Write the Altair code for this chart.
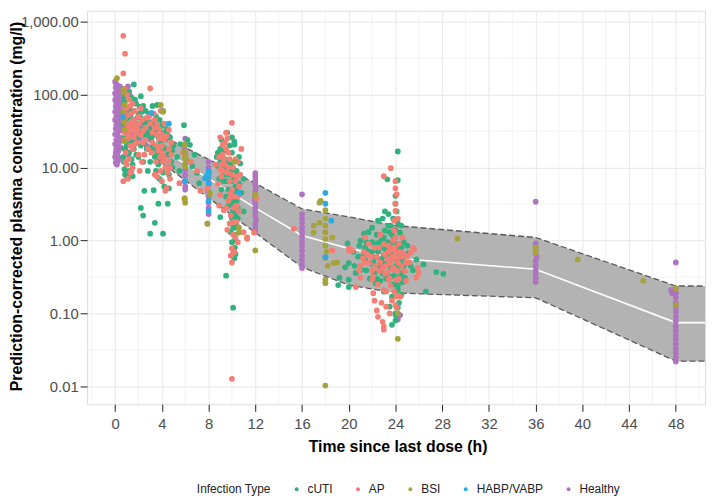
import altair as alt
import pandas as pd

FONT = "Liberation Sans"
XT = "Time since last dose (h)"
YT = "Prediction-corrected plasma concentration (mg/l)"

types = ["cUTI", "AP", "BSI", "HABP/VABP", "Healthy"]
colors = ["#2FB27E", "#F27E74", "#A6A33A", "#2BABE2", "#B073C0"]

x_ticks = [0, 4, 8, 12, 16, 20, 24, 28, 32, 36, 40, 44, 48]
y_ticks = [0.01, 0.1, 1, 10, 100, 1000]
x_minor = [-2, 2, 6, 10, 14, 18, 22, 26, 30, 34, 38, 42, 46, 50]
y_minor = [0.0316, 0.316, 3.16, 31.6, 316]

# prediction interval band (time, lower, median, upper)
band_t = [3.5, 12, 16, 20, 24, 36, 48, 50.5]
band_lo = [13.3, 1.28, 0.43, 0.245, 0.191, 0.164, 0.0222, 0.0222]
band_med = [20.0, 2.80, 1.17, 0.78, 0.57, 0.405, 0.075, 0.075]
band_hi = [30.0, 6.11, 2.71, 2.11, 1.60, 1.10, 0.238, 0.238]

healthy_pts = [
    (0.0, 150), (0.1, 140), (0.2, 132), (0.05, 125), (0.3, 118), (0.15, 110), (0.0, 104), (0.25, 98),
    (0.1, 92), (0.35, 88), (0.0, 84), (0.2, 80), (0.1, 76), (0.4, 72), (0.05, 68), (0.3, 65), (0.15, 62),
    (0.0, 58), (0.25, 55), (0.45, 52), (0.1, 50), (0.35, 47), (0.0, 45), (0.2, 43), (0.5, 40), (0.1, 38),
    (0.3, 36), (0.05, 34), (0.4, 32), (0.15, 30), (0.0, 28.5), (0.25, 27), (0.55, 25.5), (0.1, 24),
    (0.35, 22.5), (0.0, 21), (0.2, 20), (0.45, 19), (0.1, 18), (0.3, 17), (0.05, 16), (0.2, 15), (0.0, 14),
    (0.35, 13.5), (0.1, 13), (0.25, 12.3), (0.05, 11.6), (0.15, 11), (0.6, 60), (0.6, 35), (0.55, 85),
    (0.5, 110), (0.4, 130), (0.6, 45),
    (0.8, 75), (0.9, 55), (1.0, 42), (1.0, 30), (1.1, 24), (1.2, 65), (1.3, 48), (1.4, 36), (1.5, 28),
    (1.6, 22), (1.7, 40), (1.8, 32), (1.9, 26), (2.0, 50), (2.1, 25), (2.2, 35), (2.3, 30), (2.4, 22),
    (2.5, 38), (2.6, 28), (2.8, 42), (2.9, 33), (3.0, 24), (3.0, 18), (0.9, 18), (1.1, 15), (2.7, 20),
    (1.4, 90), (0.7, 100), (3.1, 42), (1.1, 130), (1.0, 110), (1.3, 95),
    (6.0, 25), (6.0, 21), (5.95, 18), (6.0, 15.5), (6.05, 13), (6.0, 11), (6.0, 9.2), (6.0, 7.8),
    (5.95, 6.5), (6.0, 5.5), (6.0, 5.0),
    (8.0, 12), (8.0, 10), (8.05, 8.5), (8.0, 7), (8.0, 5.8), (7.95, 4.8), (8.0, 4.0), (8.0, 3.3),
    (8.0, 2.8), (8.0, 2.3), (7.9, 1.7),
    (12.0, 8.4), (12.0, 7.6), (12.0, 6.8), (12.0, 6.0), (12.05, 5.3), (12.0, 4.7), (12.0, 4.1),
    (11.95, 3.6), (12.0, 3.2), (12.0, 2.8), (12.0, 2.45), (12.0, 2.15), (12.05, 1.9), (12.0, 1.65),
    (12.0, 1.45), (12.0, 1.3),
    (16.0, 4.3), (16.0, 2.3), (16.0, 2.0), (16.0, 1.75), (16.0, 1.5), (16.0, 1.3), (16.0, 1.12),
    (16.0, 0.97), (16.0, 0.84), (16.0, 0.72), (16.0, 0.62), (16.0, 0.54), (16.0, 0.47), (16.0, 0.42),
    (24.3, 0.46), (24.2, 0.083), (24.4, 0.095),
    (36.0, 3.4), (36.0, 0.91), (36.0, 0.8), (36.0, 0.7), (36.1, 0.6), (36.0, 0.52), (36.0, 0.45),
    (36.0, 0.39), (36.0, 0.34), (36.0, 0.3), (36.0, 0.27),
    (48.0, 0.5), (47.6, 0.21), (47.7, 0.19), (48.0, 0.22), (48.0, 0.19), (48.0, 0.165), (48.0, 0.14),
    (48.0, 0.12), (48.0, 0.105), (48.0, 0.09), (48.0, 0.078), (48.0, 0.067), (48.0, 0.058), (48.0, 0.05),
    (48.0, 0.044), (48.0, 0.038), (48.0, 0.033), (48.0, 0.029), (48.0, 0.025), (48.0, 0.022),
]

cuti_pts = [
    (0.8, 75), (0.8, 95), (0.75, 120), (0.9, 60), (0.85, 100), (0.75, 25), (0.7, 40), (0.8, 80), (0.8, 9.5),
    (0.9, 35), (0.9, 8.1), (1.0, 65), (1.0, 20), (1.1, 28), (1.2, 110), (1.2, 16), (1.3, 50), (1.4, 90),
    (1.4, 13), (1.5, 45), (1.5, 11), (1.5, 7.6), (1.6, 138), (1.7, 32), (1.7, 85), (1.8, 75), (1.9, 25),
    (2.0, 55), (2.0, 14), (2.1, 38), (2.2, 48), (2.2, 95), (2.3, 30), (2.4, 70), (2.5, 22), (2.6, 60),
    (2.7, 18), (2.8, 42), (2.9, 28), (3.0, 35), (0.85, 8), (1.0, 7.5), (1.1, 60), (1.3, 22), (1.6, 18),
    (1.8, 40), (2.4, 12), (2.6, 26), (0.7, 55), (2.1, 68),
    (0.95, 30), (0.8, 18), (0.7, 14), (0.9, 105), (1.1, 45), (1.2, 33), (1.4, 24), (1.6, 60), (1.8, 15),
    (1.9, 48), (2.0, 36), (2.2, 20), (2.3, 58), (2.5, 42), (2.7, 30), (2.9, 55), (3.1, 25), (3.3, 18),
    (3.5, 33), (3.7, 26), (3.9, 36), (4.1, 19), (4.3, 24), (4.5, 28), (4.7, 15), (4.9, 10), (3.4, 14),
    (2.8, 9), (1.2, 9), (0.75, 12),
    (2.2, 2.8), (2.4, 2.2), (3.4, 1.75), (3.0, 1.24), (4.1, 1.24), (3.7, 3.2), (2.5, 4.8), (4.5, 3.2),
    (3.2, 70), (3.6, 72), (3.5, 50), (3.8, 45), (4.0, 38), (4.2, 30), (3.4, 28), (3.9, 22), (4.3, 18),
    (4.5, 15), (3.6, 16), (4.0, 13), (4.4, 10), (4.6, 8), (3.8, 7), (4.2, 5.5), (4.8, 12), (5.0, 20),
    (4.7, 26), (3.3, 40), (4.1, 60), (3.0, 12), (3.5, 9), (3.3, 4.9), (4.6, 5.2), (3.7, 11), (4.1, 8.5),
    (4.9, 17), (3.2, 20), (4.4, 34),
    (5.6, 21), (5.9, 38), (6.4, 20.5), (6.6, 10.4), (7.2, 6.1), (5.3, 14), (6.8, 15), (5.5, 9), (7.0, 8.5),
    (6.2, 24),
    (8.7, 14), (9.0, 18), (9.2, 10), (9.4, 8), (9.6, 12), (9.8, 20), (10.0, 16), (10.2, 22.6),
    (10.2, 20.6), (10.4, 9), (10.6, 6), (9.1, 5), (9.5, 4), (9.9, 3.2), (10.1, 2.5), (10.25, 1.87),
    (10.3, 1.5), (10.2, 1.2), (10.25, 1.0), (10.25, 0.8), (10.3, 0.65), (9.5, 0.33), (10.1, 0.12),
    (10.2, 0.57), (10.5, 2.8), (10.8, 4.5), (9.3, 6.5), (8.9, 7), (10.0, 26), (9.7, 3), (10.4, 1.6),
    (10.6, 14), (11.0, 7), (9.0, 2.1), (10.0, 0.95), (10.7, 11.4), (11.0, 2.5), (9.6, 30), (8.8, 10.5),
    (9.4, 13), (10.1, 4.2), (10.4, 3.4),
    (8.8, 16), (9.0, 12), (9.1, 24), (9.3, 17), (9.5, 9.5), (9.6, 6.5), (9.7, 5), (9.8, 8), (9.9, 11),
    (10.0, 6.5), (10.1, 9.5), (10.2, 7), (10.3, 5.5), (10.4, 4.8), (10.1, 1.5), (9.9, 1.3), (10.0, 2.0),
    (10.3, 2.2), (10.5, 2), (10.2, 3.5),
    (19.1, 0.245), (19.2, 0.31), (19.7, 0.43), (19.9, 0.91), (20.0, 0.23), (20.0, 0.29), (20.0, 0.49),
    (20.6, 0.36), (20.8, 0.6), (21.0, 1.0), (21.3, 1.24), (21.4, 0.80), (21.4, 0.54), (21.5, 0.39),
    (21.8, 0.3), (22.0, 0.7), (22.0, 1.5), (22.3, 0.59), (22.3, 0.26), (22.5, 1.87), (22.6, 0.45),
    (22.8, 1.0), (22.9, 0.35), (23.0, 0.2), (23.1, 1.37), (23.2, 0.75), (23.3, 6.9), (23.4, 2.3),
    (23.4, 0.5), (23.5, 0.124), (23.6, 0.9), (23.7, 0.17), (23.8, 0.4), (23.9, 1.1), (24.0, 4.1),
    (24.0, 3.2), (24.0, 0.8), (24.0, 0.1), (24.0, 0.08), (24.1, 0.54), (24.1, 0.29), (24.2, 16.6),
    (24.2, 6.7), (24.2, 1.75), (24.2, 0.21), (24.3, 0.14), (24.4, 1.28), (24.4, 0.65), (24.5, 0.36),
    (24.6, 0.54), (24.7, 0.95), (24.8, 0.31), (25.1, 0.67), (25.3, 0.45), (25.5, 0.39), (25.8, 0.55),
    (26.4, 0.47), (26.6, 0.2), (27.5, 0.37), (28.1, 0.35), (22.2, 0.9), (21.9, 0.48), (23.0, 0.62),
    (23.6, 1.6), (22.7, 0.28), (24.0, 0.6), (23.3, 0.95), (21.2, 0.6), (20.4, 0.7), (24.5, 0.18),
    (23.8, 0.25), (22.4, 1.2), (24.2, 0.12), (24.1, 2.5), (23.9, 0.33), (23.5, 1.3), (24.3, 0.44),
    (22.9, 2.0), (24.0, 0.095), (23.7, 0.07),
    (20.5, 0.45), (20.9, 0.85), (21.1, 0.4), (21.6, 0.72), (21.7, 1.3), (22.1, 0.5), (22.2, 0.36),
    (22.5, 0.7), (22.6, 0.95), (22.8, 0.55), (22.9, 0.8), (23.0, 1.1), (23.1, 0.48), (23.2, 0.3),
    (23.3, 0.65), (23.4, 1.6), (23.5, 0.8), (23.6, 0.42), (23.7, 1.2), (23.8, 0.7), (23.9, 0.55),
    (24.0, 0.45), (24.0, 1.4), (24.1, 0.9), (24.2, 0.7), (24.3, 0.6), (24.4, 0.32), (24.5, 0.8),
    (24.6, 0.27), (24.7, 0.45), (22.0, 0.95), (21.5, 0.95), (23.1, 2.5), (23.8, 2.0), (24.5, 1.6),
    (25.0, 0.85), (22.4, 0.3), (23.6, 0.32), (24.2, 0.24), (24.0, 0.2),
]

ap_pts = [
    (0.7, 640), (0.85, 364), (0.7, 195), (3.0, 122), (0.8, 120), (1.0, 100), (1.2, 85), (1.0, 65),
    (1.4, 55), (1.6, 45), (1.2, 40), (1.5, 35), (1.8, 30), (2.0, 50), (1.1, 25), (1.3, 20), (0.9, 16),
    (1.2, 13), (1.0, 11), (1.4, 9), (1.1, 7), (0.7, 6.5), (1.5, 10), (1.7, 60), (2.2, 28), (2.4, 22),
    (2.6, 35), (2.8, 18), (0.8, 30), (0.9, 50), (1.3, 70), (1.6, 26), (2.0, 15), (1.8, 40), (0.75, 45),
    (1.3, 32), (1.5, 18), (1.1, 38), (2.3, 45), (1.9, 22), (0.8, 24), (2.5, 15), (2.1, 9),
    (0.8, 70), (0.8, 55), (1.0, 35), (1.1, 52), (1.2, 28), (1.4, 42), (1.5, 75), (1.6, 33), (1.7, 21),
    (1.9, 34), (2.1, 40), (2.2, 65), (2.4, 32), (2.6, 24), (2.7, 48), (3.0, 40), (3.2, 22), (3.4, 35),
    (3.6, 28), (3.8, 19), (4.0, 16), (4.2, 14), (4.4, 27), (4.6, 33), (4.8, 15), (3.9, 9), (3.4, 8),
    (2.3, 12), (1.3, 8.5), (0.9, 12),
    (3.4, 45), (3.6, 38), (3.8, 33), (4.0, 28), (4.2, 24), (3.5, 20), (3.7, 17), (3.9, 14), (4.1, 12),
    (4.3, 10), (4.5, 8.5), (3.6, 7.5), (4.0, 6.5), (4.4, 5.2), (3.3, 55), (3.9, 60), (4.6, 18), (4.8, 22),
    (3.2, 30), (4.2, 40), (4.6, 12), (2.9, 50), (3.1, 16), (4.7, 7), (4.7, 9.8), (4.3, 4.8), (3.8, 25),
    (4.0, 20), (3.5, 12),
    (5.5, 6.1), (7.3, 4.8), (7.9, 5.1), (6.5, 12), (7.0, 9), (5.8, 16),
    (9.0, 26), (10.0, 41), (9.5, 30), (9.2, 15), (9.4, 11), (9.6, 8.5), (9.8, 6.5), (10.0, 5), (10.2, 4),
    (10.4, 3), (9.9, 2.2), (10.1, 1.8), (9.6, 1.4), (10.3, 1.1), (9.2, 9), (9.0, 4.2), (8.8, 6),
    (10.5, 12), (10.7, 8), (10.8, 18), (10.0, 0.0127), (10.0, 0.5), (9.9, 0.62), (10.2, 0.7), (9.4, 22),
    (8.6, 11), (11.0, 1.3), (10.5, 0.95), (9.7, 3.5), (9.3, 2.6), (9.6, 25), (9.2, 20.6), (9.0, 9.4),
    (9.8, 3.8), (10.0, 0.78), (10.1, 0.67), (9.7, 16), (10.3, 13), (9.1, 7.5), (10.6, 5.5), (8.9, 3),
    (8.9, 14), (9.1, 11), (9.3, 13), (9.5, 18), (9.7, 10), (9.8, 13), (9.9, 4.5), (10.0, 8), (10.1, 10),
    (10.2, 2.8), (10.3, 6.5), (10.4, 7.5), (10.5, 4), (10.6, 2.5), (10.1, 1.2), (9.8, 1.7), (9.5, 2.8),
    (10.4, 1.8),
    (11.9, 1.28), (12.1, 3.8), (11.3, 1.1), (11.3, 1.06), (15.3, 1.45),
    (18.6, 0.73), (20.0, 0.78), (20.0, 0.73), (20.3, 0.73), (20.6, 0.23), (20.9, 0.39), (21.0, 0.31),
    (21.3, 0.7), (21.4, 0.5), (21.6, 0.64), (21.4, 1.1), (21.2, 0.57), (21.8, 0.49), (22.0, 0.29),
    (22.0, 0.39), (22.1, 0.32), (22.1, 0.19), (22.2, 0.15), (22.4, 0.11), (22.5, 0.09), (22.9, 0.077),
    (23.0, 0.066), (23.0, 0.21), (23.0, 7.6), (23.2, 0.124), (23.4, 0.29), (23.5, 0.10), (23.6, 9.8),
    (23.8, 0.43), (23.9, 1.37), (23.9, 1.87), (24.0, 2.55), (24.0, 3.2), (24.1, 4.3), (24.0, 5.2),
    (24.0, 6.5), (24.1, 0.29), (24.4, 0.17), (25.5, 0.80), (25.6, 0.76), (25.3, 0.69), (25.9, 0.42),
    (25.8, 0.31), (26.0, 0.36), (23.0, 0.06), (22.6, 0.8), (23.3, 0.55), (22.7, 1.2), (24.3, 0.9),
    (23.7, 0.6), (22.3, 0.45), (24.6, 1.1), (24.2, 0.38), (23.1, 0.35), (21.7, 0.9), (24.9, 0.5),
    (23.6, 0.24), (22.8, 0.14), (24.5, 0.6), (23.4, 0.85), (24.2, 2.0), (23.8, 1.0), (24.0, 0.13),
    (21.0, 0.45),
    (21.9, 0.6), (22.2, 0.8), (22.4, 0.6), (22.6, 0.38), (22.7, 0.5), (22.9, 0.42), (23.0, 0.9),
    (23.1, 0.65), (23.2, 0.45), (23.3, 0.36), (23.4, 0.7), (23.5, 0.5), (23.5, 0.3), (23.6, 0.75),
    (23.7, 0.4), (23.8, 0.55), (23.9, 0.8), (23.9, 0.2), (24.0, 1.1), (24.0, 0.7), (24.0, 0.4),
    (24.1, 0.6), (24.1, 0.17), (24.2, 0.5), (24.3, 0.3), (24.4, 0.7), (24.5, 0.45), (24.7, 0.65),
    (24.8, 0.38), (25.0, 0.6), (25.2, 0.5), (24.9, 0.28), (22.5, 0.25), (23.2, 0.2), (23.7, 0.15),
    (24.1, 0.12),
]

bsi_pts = [
    (0.15, 168), (0.7, 115), (0.75, 108), (0.8, 72), (0.7, 58), (0.75, 42), (0.8, 33), (0.8, 23),
    (3.9, 72), (4.1, 58), (5.95, 20.6), (5.95, 16.5), (6.0, 14), (6.0, 13.3), (6.1, 13), (5.95, 11),
    (6.0, 10.4), (5.95, 3.8), (5.95, 3.7), (6.0, 3.3), (7.9, 1.7), (8.1, 4.3), (8.1, 4.5), (10.2, 12),
    (10.6, 1.5), (10.6, 1.28), (12.0, 4.1), (12.0, 4.3), (12.0, 0.73), (17.0, 1.6), (17.0, 1.28),
    (17.5, 1.75), (17.5, 3.3), (17.6, 3.5), (18.0, 2.6), (18.0, 2.0), (18.0, 1.6), (18.0, 1.3),
    (18.0, 1.05), (18.0, 0.85), (18.1, 0.7), (18.0, 0.58), (18.2, 0.45), (18.0, 0.29), (18.0, 0.26),
    (18.0, 0.0103), (18.6, 1.1), (18.7, 0.49), (19.0, 0.5), (24.2, 0.045), (24.2, 0.10), (29.3, 1.06),
    (36.0, 0.80), (36.0, 0.73), (36.0, 0.67), (39.6, 0.55), (45.2, 0.28), (48.0, 0.22), (48.0, 0.13),
]

habp_pts = [
    (0.7, 49), (3.1, 56), (4.6, 40), (6.0, 6.5), (7.7, 7.1), (8.0, 8.9), (8.0, 7.6), (7.8, 7.6),
    (8.0, 6.1), (8.0, 3.5), (8.0, 2.55), (10.6, 4.5), (18.0, 4.5), (18.0, 3.2), (18.5, 1.87), (18.0, 0.59),
]

rows = []
for name, pts in [("Healthy", healthy_pts), ("cUTI", cuti_pts), ("AP", ap_pts),
                  ("BSI", bsi_pts), ("HABP/VABP", habp_pts)]:
    for t, v in pts:
        rows.append({"t": t, "v": v, "type": name})
pts_df = pd.DataFrame(rows)

band_df = pd.DataFrame({"t": band_t, "lo": band_lo, "med": band_med, "hi": band_hi})

xs = alt.Scale(domain=[-2.4, 50.5], nice=False, zero=False)
ys = alt.Scale(type="log", domain=[0.0057, 1409], nice=False)

xaxis = alt.Axis(values=x_ticks, grid=True, gridColor="#EBEBEB", gridWidth=1.2, domain=False,
                 tickColor="#333333", tickSize=7, tickWidth=1.1, labelFont=FONT, labelFontSize=15,
                 labelColor="#4D4D4D", labelPadding=6, labelFlush=False, labelOverlap=False,
                 titleFont=FONT, titleFontSize=16, titleFontWeight="bold", titleColor="#000000",
                 titleX=314, titleY=48, titleBaseline="alphabetic", titleAlign="center")
yaxis = alt.Axis(values=y_ticks, format=",.2f", grid=True, gridColor="#EBEBEB", gridWidth=1.2,
                 domain=False, tickColor="#333333", tickSize=7, tickWidth=1.1, labelFont=FONT,
                 labelFontSize=15, labelColor="#4D4D4D", labelPadding=2, labelFlush=False,
                 labelOverlap=False, titleFont=FONT, titleFontSize=16, titleFontWeight="bold",
                 titleColor="#000000", titleX=-66, titleY=197.5, titleBaseline="alphabetic",
                 titleAlign="center")


def X(field):
    return alt.X(f"{field}:Q", scale=xs, axis=xaxis, title=XT)


def Y(field):
    return alt.Y(f"{field}:Q", scale=ys, axis=yaxis, title=YT)


minor_v = alt.Chart(pd.DataFrame({"t": x_minor})).mark_rule(
    color="#EFEFEF", strokeWidth=0.8).encode(x=X("t"))
minor_h = alt.Chart(pd.DataFrame({"v": y_minor})).mark_rule(
    color="#EFEFEF", strokeWidth=0.8).encode(y=Y("v"))

area = alt.Chart(band_df).mark_area(color="#B3B3B3", opacity=1, clip=True).encode(
    x=X("t"), y=Y("lo"), y2="hi:Q")
lo_line = alt.Chart(band_df).mark_line(color="#5A5A5A", strokeDash=[6, 3], strokeWidth=1.3,
                                       clip=True).encode(x=X("t"), y=Y("lo"))
hi_line = alt.Chart(band_df).mark_line(color="#5A5A5A", strokeDash=[6, 3], strokeWidth=1.3,
                                       clip=True).encode(x=X("t"), y=Y("hi"))
med_line = alt.Chart(band_df).mark_line(color="#FFFFFF", strokeWidth=1.6, clip=True).encode(
    x=X("t"), y=Y("med"))

points = alt.Chart(pts_df).mark_circle(size=34, opacity=1, clip=True).encode(
    x=X("t"), y=Y("v"),
    color=alt.Color("type:N", scale=alt.Scale(domain=types, range=colors),
                    legend=alt.Legend(title="Infection Type", orient="none", legendX=111, legendY=478,
                                      direction="horizontal", titleOrient="left", titleFont=FONT,
                                      titleFontSize=12, titleFontWeight="normal", titleColor="#222222",
                                      labelFont=FONT, labelFontSize=12, labelColor="#222222",
                                      symbolType="circle", symbolSize=16, symbolStrokeWidth=0,
                                      labelOffset=5, columnPadding=19, titlePadding=20, padding=0)),
)

chart = alt.layer(minor_v, minor_h, area, lo_line, hi_line, med_line, points).properties(
    width=625, height=398,
    padding={"left": 80, "top": 0, "right": 2, "bottom": 90},
    autosize=alt.AutoSizeParams(type="none"),
).configure_view(stroke="#222222", strokeWidth=1.6).configure(font=FONT)

chart.save("out.html", embed_options={"renderer": "svg", "actions": False})
